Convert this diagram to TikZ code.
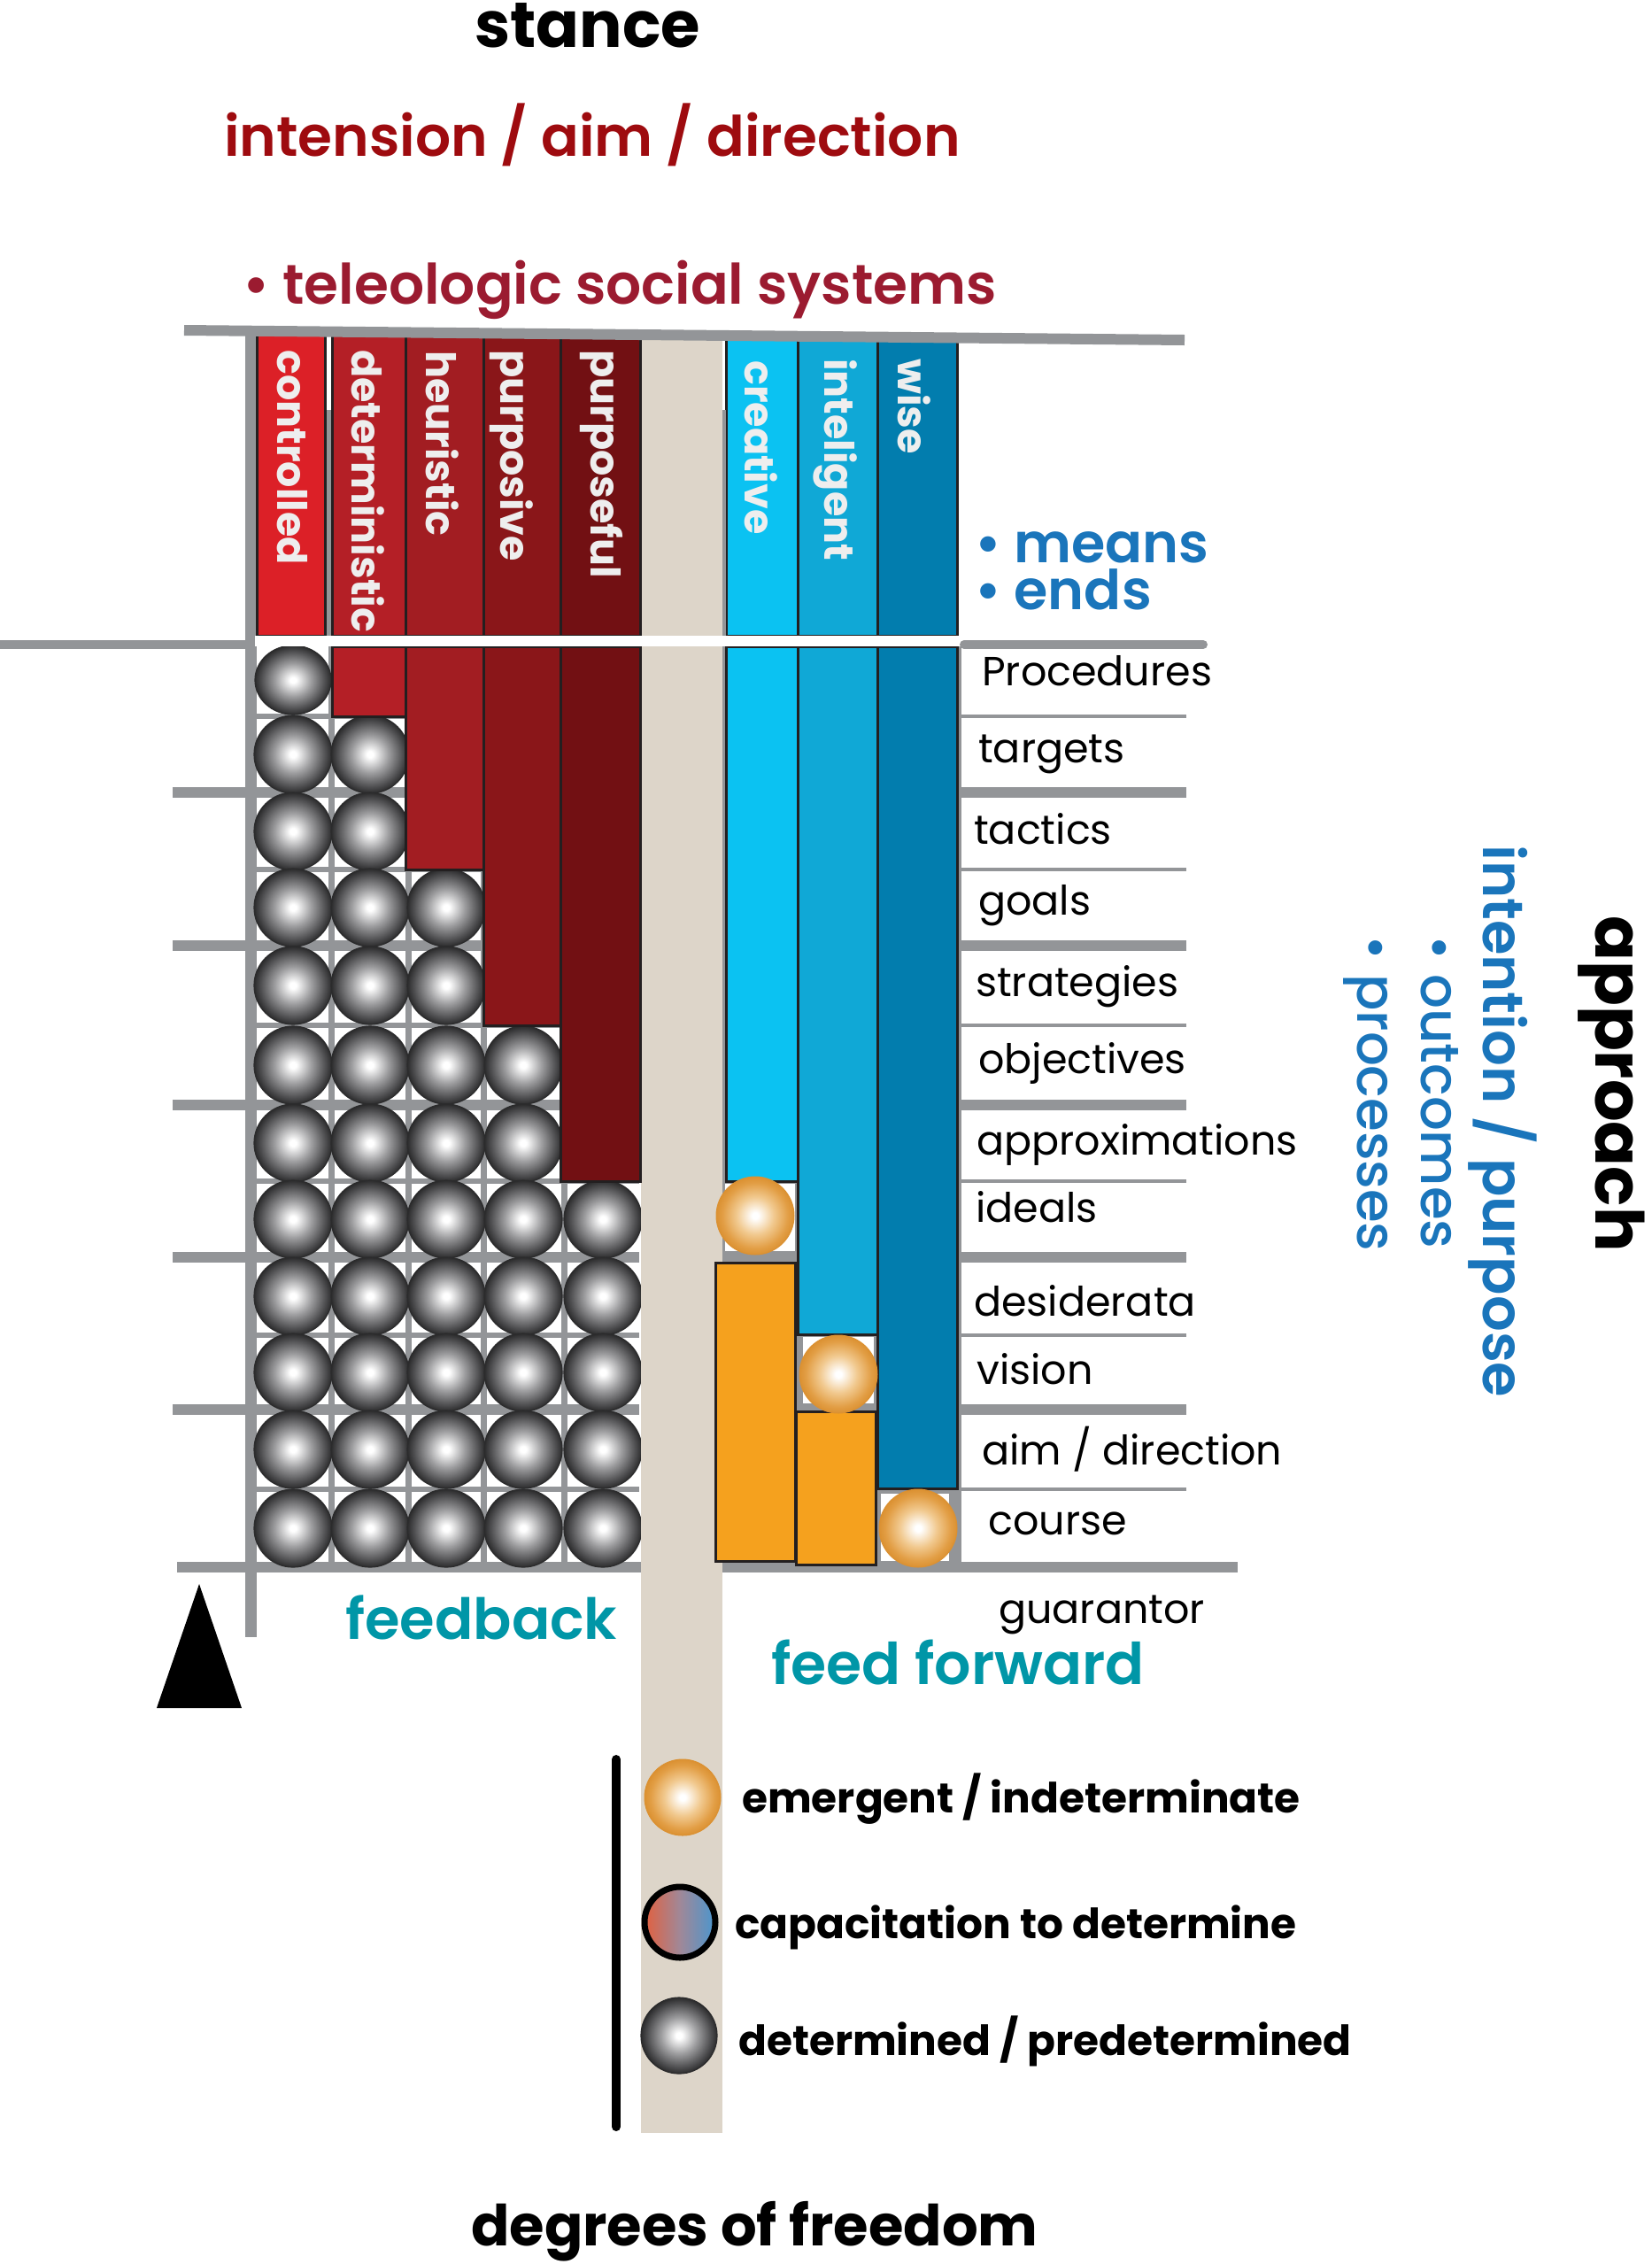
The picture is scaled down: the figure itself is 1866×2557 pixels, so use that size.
\documentclass[tikz,border=0pt]{standalone}
\usepackage{fontspec}
\setmainfont{Poppins}
\newfontfamily\psb{Poppins SemiBold}
\newfontfamily\pmd{Poppins Medium}
\definecolor{gr}{HTML}{939598}
\definecolor{dk}{HTML}{231F20}
\definecolor{cctl}{HTML}{DC2027}
\definecolor{cdet}{HTML}{B41F26}
\definecolor{cheu}{HTML}{A21D22}
\definecolor{cpsv}{HTML}{8A1619}
\definecolor{cpsf}{HTML}{721013}
\definecolor{beige}{HTML}{DDD5C9}
\definecolor{ccre}{HTML}{0BC2F2}
\definecolor{cint}{HTML}{10A8D6}
\definecolor{cwis}{HTML}{027DAE}
\definecolor{corg}{HTML}{F5A11E}
\definecolor{colw}{HTML}{EEEEEE}
\definecolor{tred}{HTML}{9E0B0F}
\definecolor{tcrim}{HTML}{9B1B30}
\definecolor{tblue}{HTML}{1A75BB}
\definecolor{tteal}{HTML}{0096A7}
\definecolor{sphmid}{HTML}{9C9C9E}
\definecolor{sphdark}{HTML}{4D4D4F}
\definecolor{sphedge}{HTML}{2B2B2C}
\definecolor{ormid}{HTML}{F1C98F}
\definecolor{ordark}{HTML}{E29E45}
\definecolor{oredge}{HTML}{DB9132}
\definecolor{capred}{HTML}{E2603F}
\definecolor{capmid}{HTML}{A08898}
\definecolor{capblue}{HTML}{4A96CE}
\pgfdeclareradialshading{greysph}{\pgfpoint{0bp}{0bp}}{color(0bp)=(white); color(2bp)=(white); color(12bp)=(sphmid); color(21bp)=(sphdark); color(25bp)=(sphedge); color(50bp)=(sphedge)}
\pgfdeclareradialshading{orsph}{\pgfpoint{0bp}{0bp}}{color(0bp)=(white); color(2bp)=(white); color(12bp)=(ormid); color(21bp)=(ordark); color(25bp)=(oredge); color(50bp)=(oredge)}
\tikzset{
  barbox/.style={draw=dk, line width=3},
  gsph/.style={shading=greysph, draw=sphedge, line width=1.2},
  osph/.style={shading=orsph, draw=oredge, line width=1},
  ttl/.style={font=\psb\fontsize{63}{68}\selectfont, inner sep=0, anchor=base west},
  bigt/.style={font=\bfseries\fontsize{64}{68}\selectfont, inner sep=0, anchor=base west, text=black},
  lbl/.style={font=\fontsize{46}{50}\selectfont, inner sep=0, anchor=base west, text=black},
  leg/.style={font=\bfseries\fontsize{47}{50}\selectfont, inner sep=0, anchor=base west, text=black},
  coltxt/.style={font=\bfseries\fontsize{46}{50}\selectfont, text=colw, rotate=-90, inner sep=0, anchor=base west},
}
\begin{document}
\begin{tikzpicture}[x=1pt,y=-1pt]
\useasboundingbox (0,0) rectangle (1866,2557);
% ---------- left grid ----------
\fill[gr] (277,372) rectangle (290,1849);
\foreach \yy in {809,982,1158,1334,1508,1682} \draw[gr,line width=6] (284,\yy) -- (722,\yy);
\foreach \yy in {895,1068,1248,1420,1592} \draw[gr,line width=12] (195,\yy) -- (722,\yy);
\foreach \xx in {374,461.5,546.5,637.5} \draw[gr,line width=7] (\xx,730) -- (\xx,1776);
% ---------- right label lines ----------
\foreach \yy in {809,982,1158,1334,1508,1682} \draw[gr,line width=4] (1085,\yy) -- (1340,\yy);
\foreach \yy in {895,1068,1248,1420,1592} \draw[gr,line width=12] (1085,\yy) -- (1340,\yy);
% ---------- blue side lower area ----------
\fill[gr] (815,730) rectangle (1086,1776);
\fill[white] (819,1337) rectangle (898,1413);
\fill[white] (907,1510) rectangle (987,1585);
\fill[white] (995,1687) rectangle (1072,1763);
% bottom line
\draw[gr,line width=12] (200,1770) -- (1398,1770);
% ---------- grey spheres ----------
\shadedraw[gsph] (331,768) ellipse (43 and 39);
\foreach \yy/\n in {852/2,939/2,1025/3,1113/3,1203/4,1291/4,1377/5,1464/5,1550/5,1637/5,1726/5}{
  \foreach \xx [count=\c] in {331,418,504,591,681}{
    \ifnum\c>\n\relax\else
      \shadedraw[gsph] (\xx,\yy) circle (44);
    \fi
  }
}
% ---------- beige strip ----------
\fill[beige] (724,376) rectangle (816,2409);
% ---------- red bars ----------
\filldraw[fill=cctl,barbox] (290,376) rectangle (367,718);
\filldraw[fill=cdet,barbox] (375,376) rectangle (458,718);
\filldraw[fill=cheu,barbox] (458,376) rectangle (546,718);
\filldraw[fill=cpsv,barbox] (546,376) rectangle (633,718);
\filldraw[fill=cpsf,barbox] (633,376) rectangle (723,718);
\filldraw[fill=cdet,barbox] (375,730) rectangle (458,809);
\filldraw[fill=cheu,barbox] (458,730) rectangle (546,982);
\filldraw[fill=cpsv,barbox] (546,730) rectangle (633,1158);
\filldraw[fill=cpsf,barbox] (633,730) rectangle (723,1334);
% ---------- blue bars ----------
\filldraw[fill=ccre,barbox] (820,382) rectangle (901,718);
\filldraw[fill=cint,barbox] (901,382) rectangle (991,718);
\filldraw[fill=cwis,barbox] (991,382) rectangle (1081,718);
\filldraw[fill=ccre,barbox] (820,730) rectangle (901,1334);
\filldraw[fill=cint,barbox] (901,730) rectangle (991,1507);
\filldraw[fill=cwis,barbox] (991,730) rectangle (1081,1681);
% ---------- orange bars and spheres ----------
\filldraw[fill=corg,barbox] (808,1426) rectangle (898,1763);
\filldraw[fill=corg,barbox] (899,1594) rectangle (989,1767);
\shadedraw[osph] (853,1373) circle (44);
\shadedraw[osph] (947,1552) circle (44);
\shadedraw[osph] (1037,1726) circle (44);
% small gaps lines
\draw[gr,line width=5] (371,463) -- (371,718);
\draw[gr,line width=4] (817.5,463) -- (817.5,718);
% ---------- white band and grey frame lines ----------
\fill[white] (288,718) rectangle (1084,730);
\draw[gr,line width=12] (208,373) -- (1338,384);
\draw[gr,line width=10,line cap=round] (-10,728) -- (283,728);
\draw[gr,line width=10,line cap=round] (1089,728) -- (1359,728);
% ---------- triangle and legend line ----------
\fill[black] (225,1789) -- (273,1929) -- (177,1929) -- cycle;
\draw[black,line width=10,line cap=round] (696,1987) -- (696,2402);
% ---------- legend spheres ----------
\shadedraw[osph] (771,2030) circle (43);
\shade[left color=capred, right color=capblue, middle color=capmid] (768,2171) circle (40);
\draw[black,line width=7] (768,2171) circle (40);
\shadedraw[gsph] (767,2299) circle (43);
% ---------- column labels ----------
\node[coltxt] (tctl) at (313,395) {controlled};
\node[coltxt] (tdet) at (397,395) {deterministic};
\node[coltxt] (theu) at (481,396) {heuristic};
\node[coltxt] (tpsv) at (565,395) {purposive};
\node[coltxt] (tpsf) at (667,395) {purposeful};
\node[coltxt] (tcre) at (841,407) {creative};
\node[coltxt] (tint) at (931,405) {inteligent};
\node[coltxt] (twis) at (1014,405) {wise};
% ---------- row labels ----------
\node[lbl] (r1) at (1109,774) {Procedures};
\node[lbl] (r2) at (1105,861) {targets};
\node[lbl] (r3) at (1100,953) {tactics};
\node[lbl] (r4) at (1105,1033) {goals};
\node[lbl] (r5) at (1102,1125) {strategies};
\node[lbl] (r6) at (1105,1212) {objectives};
\node[lbl] (r7) at (1103,1304) {approximations};
\node[lbl] (r8) at (1102,1380) {ideals};
\node[lbl] (r9) at (1100,1486) {desiderata};
\node[lbl] (r10) at (1103,1563) {vision};
\node[lbl] (r11) at (1109,1654) {aim / direction};
\node[lbl] (r12) at (1116,1733) {course};
\node[lbl] (r13) at (1128,1833) {guarantor};
% ---------- titles ----------
\node[bigt,font=\bfseries\fontsize{72}{76}\selectfont] (stance) at (536,53) {stance};
\node[ttl,text=tred] (intension) at (253,176) {intension / aim / direction};
\node[ttl,text=tcrim] (teleo) at (274,343) {• teleologic social systems};
\node[ttl,text=tblue,font=\psb\fontsize{62}{66}\selectfont] (means) at (1101,635) {• means};
\node[ttl,text=tblue,font=\psb\fontsize{62}{66}\selectfont] (ends) at (1101,688) {• ends};
\node[ttl,text=tteal,font=\psb\fontsize{64}{68}\selectfont] (feedback) at (390,1851) {feedback};
\node[ttl,text=tteal,font=\psb\fontsize{65}{68}\selectfont] (feedfwd) at (871,1902) {feed forward};
\node[bigt] (dof) at (532,2536) {degrees of freedom};
% ---------- legend texts ----------
\node[leg] (l1) at (838,2047) {emergent / indeterminate};
\node[leg] (l2) at (830,2189) {capacitation to determine};
\node[leg] (l3) at (834,2321) {determined / predetermined};
% ---------- right rotated texts ----------
\node[bigt,rotate=-90,font=\bfseries\fontsize{75}{78}\selectfont] (approach) at (1802,1034) {approach};
\node[ttl,rotate=-90,text=tblue,font=\psb\fontsize{64}{68}\selectfont] (intent) at (1675,954) {intention / purpose};
\node[ttl,rotate=-90,text=tblue,font=\pmd\fontsize{61}{66}\selectfont] (outc) at (1605,1056) {• outcomes};
\node[ttl,rotate=-90,text=tblue,font=\pmd\fontsize{61}{66}\selectfont] (procs) at (1533,1056) {• processes};
\end{tikzpicture}
\end{document}
